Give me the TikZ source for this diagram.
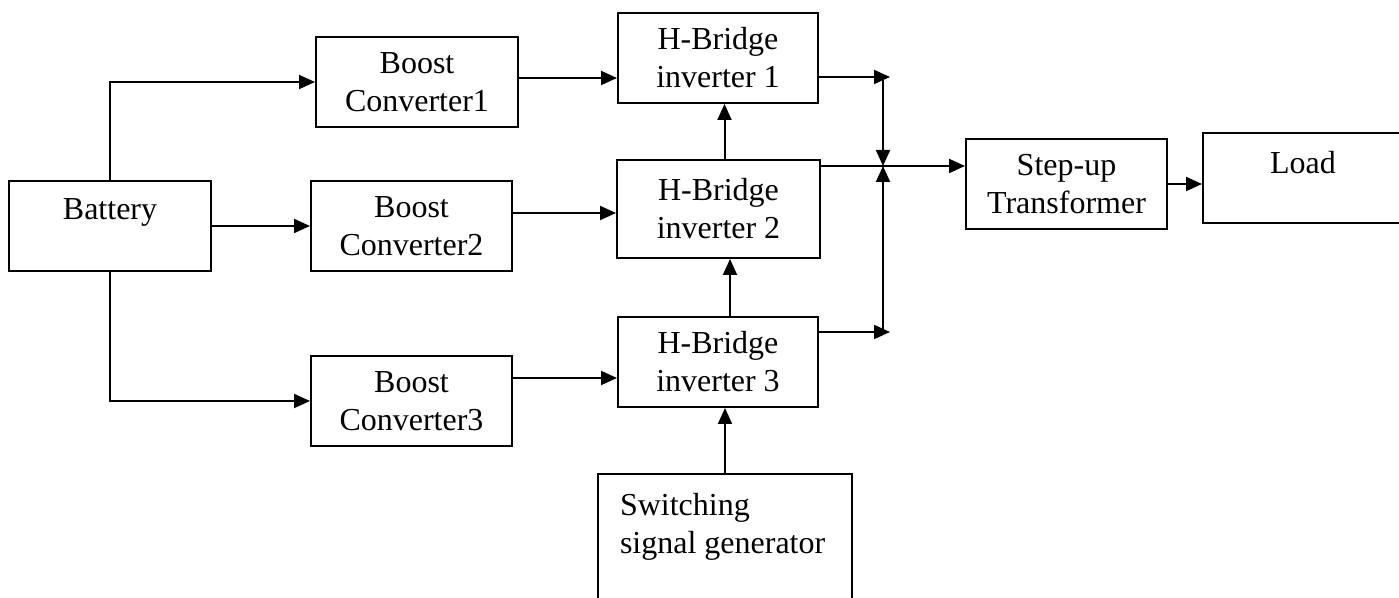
\documentclass[tikz,border=0pt]{standalone}
\usepackage{fontspec}
\setmainfont{Liberation Serif}
\usetikzlibrary{arrows.meta}

\begin{document}
\begin{tikzpicture}[x=0.5pt,y=-0.5pt,line width=1pt,
	box/.style={draw,minimum width=100.5pt,minimum height=45pt,align=center,inner sep=2pt,font=\fontsize{16}{19}\selectfont},
	arr/.style={-{Triangle[length=8pt,width=7pt]}}]
		\useasboundingbox (0,0) rectangle (1399,598);
		\draw (110,226) node[box,minimum width=101pt] (bat) {\raisebox{7pt}[\height][\depth]{Battery}};
		\draw (417,82) node[box,minimum width=101pt] (bc1) {Boost\\Converter1};
		\draw (411.5,226) node[box] (bc2) {Boost\\Converter2};
		\draw (411.5,401) node[box] (bc3) {Boost\\Converter3};
		\draw (718,58) node[box,minimum width=100pt] (hb1) {H-Bridge\\inverter 1};
		\draw (718.5,209) node[box,minimum width=101.5pt,minimum height=49pt] (hb2) {H-Bridge\\inverter 2};
		\draw (718,362) node[box,minimum width=100pt] (hb3) {H-Bridge\\inverter 3};
		\draw (1066.5,184) node[box] (tr) {Step-up\\Transformer};
		\draw (1303,178) node[box,minimum width=100pt] (load) {\raisebox{7.5pt}[\height][\depth]{Load}};
		\draw (597,473) node[box,anchor=north west,align=left,inner xsep=10.5pt,inner ysep=9.5pt,minimum width=127pt] (sw) {\parbox[t][100pt][t]{105pt}{Switching\\signal generator}};
		\coordinate (jt) at (883,77);
		\coordinate (jm) at (883,166);
		\coordinate (jb) at (883,332);
		\draw[arr] (bat.north) |- (bc1.west);
		\draw[arr] (bat.east) -- (bc2.west);
		\draw[arr] (bat.south) |- (bc3.west);
		\draw[arr] ([yshift=2pt]bc1.east) -- ([yshift=2pt]bc1.east -| hb1.west);
		\draw[arr] ([yshift=6.5pt]bc2.east) -- ([yshift=6.5pt]bc2.east -| hb2.west);
		\draw[arr] ([yshift=11.5pt]bc3.east) -- ([yshift=11.5pt]bc3.east -| hb3.west);
		\draw[arr] ([xshift=3pt]hb2.north) -- ([xshift=3pt]hb2.north |- hb1.south);
		\draw[arr] ([xshift=6pt]hb3.north) -- ([xshift=6pt]hb3.north |- hb2.south);
		\draw[arr] (sw.north) -- (sw.north |- hb3.south);
		\draw[arr,shorten >=-3.5pt] (hb1.east |- jt) -- (jt);
		\draw[arr,shorten >=-3.5pt] (hb3.east |- jb) -- (jb);
		\draw[arr] (jt) -- (jm);
		\draw[arr] (jb) -- (jm);
		\draw[arr] (hb2.east |- jm) -- (tr.west |- jm);
		\draw[arr] (tr.east) -- (tr.east -| load.west);
	\end{tikzpicture}
\end{document}
